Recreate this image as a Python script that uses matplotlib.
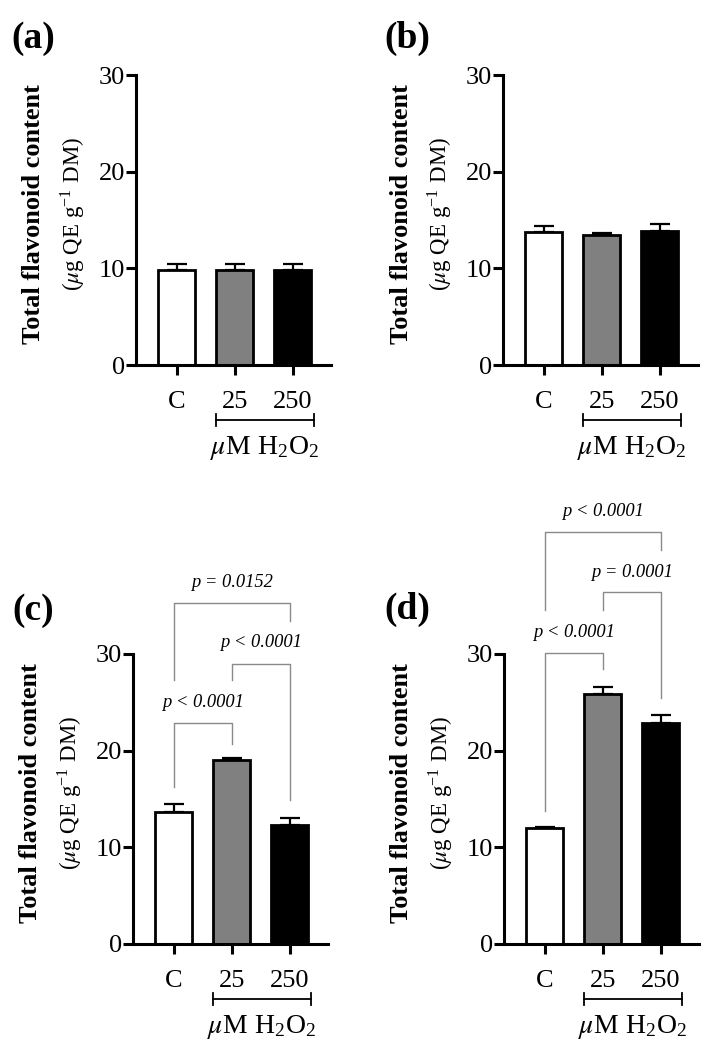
import numpy as np
import matplotlib
matplotlib.use('Agg')
import matplotlib.pyplot as plt
import matplotlib.transforms as mtransforms

plt.rcParams['font.family'] = ['Liberation Serif', 'DejaVu Serif']
plt.rcParams['mathtext.fontset'] = 'stix'

# ===== data =====
groups = ['C', '25', '250']
bar_colors = ['white', '#808080', 'black']

mean_a = [9.8, 9.8, 9.8]
err_a = [0.6, 0.6, 0.6]
mean_b = [13.75, 13.45, 13.85]
err_b = [0.65, 0.25, 0.7]
mean_c = [13.7, 19.05, 12.35]
err_c = [0.75, 0.2, 0.65]
mean_d = [11.95, 25.9, 22.85]
err_d = [0.15, 0.65, 0.85]

# significance brackets: (i, j, top, left leg end, right leg end, text y, label)
sig_c = [
    (0, 1, 22.9, 16.2, 20.7, 25.0, 'p < 0.0001'),
    (1, 2, 29.0, 27.3, 14.9, 31.2, 'p < 0.0001'),
    (0, 2, 35.3, 27.3, 33.4, 37.4, 'p = 0.0152'),
]
sig_d = [
    (0, 1, 30.1, 13.8, 28.4, 32.2, 'p < 0.0001'),
    (1, 2, 36.4, 34.6, 25.4, 38.4, 'p = 0.0001'),
    (0, 2, 42.6, 34.6, 40.8, 44.7, 'p < 0.0001'),
]

W, H = 716, 1057
fig = plt.figure(figsize=(W / 100, H / 100), dpi=100)

ax_w = 195 / W
ax_h = 290 / H
panels = [
    ('(a)', mean_a, err_a, [], (136, 365), (33, 38)),
    ('(b)', mean_b, err_b, [], (503, 365), (407, 38)),
    ('(c)', mean_c, err_c, sig_c, (133, 944), (33, 611)),
    ('(d)', mean_d, err_d, sig_d, (504, 944), (407, 609)),
]

x = np.arange(len(groups))

for letter, means, errs, sigs, (px, py), (lx, ly) in panels:
    ax = fig.add_axes([px / W, 1 - py / H, ax_w, ax_h])
    ax.errorbar(x, means, yerr=[np.zeros(3), errs], fmt='none', ecolor='black',
                elinewidth=1.6, capsize=7, capthick=1.6, zorder=1)
    ax.bar(x, means, width=0.64, color=bar_colors, edgecolor='black',
           linewidth=2, zorder=2)
    ax.set_xlim(-0.7, 2.66)
    ax.set_ylim(0, 30)
    ax.set_yticks([0, 10, 20, 30])
    ax.set_xticks(x)
    ax.set_xticklabels(groups)
    for s in ['top', 'right']:
        ax.spines[s].set_visible(False)
    for s in ['left', 'bottom']:
        ax.spines[s].set_linewidth(2.2)
    ax.tick_params(width=2.2, length=7, labelsize=19, direction='out')
    ax.tick_params(axis='x', pad=12)
    ax.tick_params(axis='y', pad=1)

    ax.text(-102 / 195, 0.52, 'Total flavonoid content', transform=ax.transAxes,
            rotation=90, ha='center', va='center', fontsize=19, fontweight='bold')
    ax.text(-63 / 195, 0.52, r'($\mu$g QE g$^{\mathregular{-1}}$ DM)', transform=ax.transAxes,
            rotation=90, ha='center', va='center', fontsize=16.5)

    # treatment bracket under the x axis
    trans = mtransforms.blended_transform_factory(ax.transData, ax.transAxes)
    x0, x1 = 0.68, 2.36
    ax.plot([x0, x1], [-0.19, -0.19], color='black', lw=1.3, transform=trans, clip_on=False)
    for xx in [x0, x1]:
        ax.plot([xx, xx], [-0.168, -0.212], color='black', lw=1.3, transform=trans, clip_on=False)
    ax.text((x0 + x1) / 2, -0.285, r'$\mu$M H$_\mathregular{2}$O$_\mathregular{2}$',
            transform=trans, ha='center', va='center', fontsize=20)

    for i, j, top, yl, yr, ty, lab in sigs:
        ax.plot([i, i, j, j], [yl, top, top, yr], color='#8a8a8a', lw=1.0,
                clip_on=False, zorder=0)
        ax.text((i + j) / 2, ty, lab, ha='center', va='center', fontsize=13.3,
                style='italic', clip_on=False)

    fig.text(lx / W, 1 - ly / H, letter, ha='center', va='center',
             fontsize=27, fontweight='bold')

fig.savefig('out.png', dpi=100)
